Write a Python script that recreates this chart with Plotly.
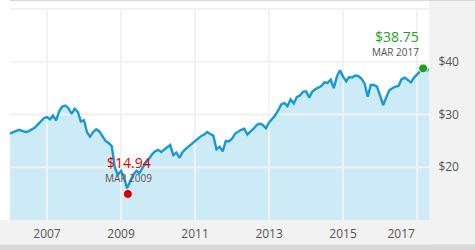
import plotly.graph_objects as go
import pandas as pd

# ---------------- data ----------------
months = pd.date_range("2006-01-01", "2017-04-01", freq="MS").strftime("%Y-%m-%d").tolist()
dates = months + ["2017-04-28"]

prices = [
    # 2006
    26.4, 26.6, 26.8, 27.1, 26.9, 26.7, 26.8, 27.2, 27.5, 28.1, 28.7, 29.3,
    # 2007
    29.5, 29.1, 29.8, 28.9, 30.6, 31.5, 31.7, 31.2, 30.1, 31.1, 30.5, 28.7,
    # 2008
    28.9, 26.6, 25.8, 26.7, 27.2, 26.8, 25.9, 25.0, 24.6, 24.0, 19.9, 18.6,
    # 2009
    19.3, 18.0, 16.0, 17.5, 18.6, 19.3, 18.9, 19.9, 20.9, 21.5, 22.4, 23.0,
    # 2010
    23.3, 22.9, 23.3, 23.8, 24.2, 22.3, 22.8, 21.8, 22.9, 23.5, 24.0, 24.6,
    # 2011
    25.1, 25.5, 25.9, 26.2, 26.7, 26.3, 26.0, 23.4, 23.9, 23.0, 25.0, 24.9,
    # 2012
    25.4, 26.4, 26.8, 27.1, 27.3, 26.2, 26.8, 27.3, 28.0, 28.3, 28.0, 27.4,
    # 2013
    28.5, 29.1, 29.8, 30.8, 31.9, 32.2, 31.6, 32.9, 32.1, 33.3, 33.6, 34.3,
    # 2014
    34.4, 33.2, 34.3, 34.8, 35.1, 35.4, 36.1, 36.0, 36.6, 35.0, 37.2, 38.4,
    # 2015
    37.2, 36.3, 37.1, 37.0, 37.4, 37.3, 36.8, 35.9, 33.4, 35.6, 35.6, 35.3,
    # 2016
    33.6, 31.8, 33.2, 34.6, 35.0, 35.3, 35.4, 36.7, 37.0, 36.6, 36.1, 37.0,
    # 2017
    37.6, 38.2, 38.75, 38.3, 38.6,
]

low_date = "2009-03-09"
low_price = 14.94
low_text = "$14.94"
low_month = "MAR 2009"

high_date = "2017-03-01"
high_price = 38.75
high_text = "$38.75"
high_month = "MAR 2017"

grid_years = ["2007-01-01", "2009-01-01", "2011-01-01", "2013-01-01", "2015-01-01", "2017-01-01"]
x_tick_labels = ["2007", "2009", "2011", "2013", "2015", "2017"]
y_grid_values = [20, 30, 40, 50]
y_tick_values = [20, 30, 40]
y_tick_labels = ["$20", "$30", "$40"]

x_range = ["2006-01-01", "2017-04-28"]
y_range = [10, 50.2]

# ---------------- styles ----------------
LINE = "#1899d6"
FILL = "#cdeaf7"
GRID = "#f0f2f3"
TXT = "#555555"
RED = "#d40000"
GREEN = "#1f9e1f"
FONT = "Open Sans"

# label positions: last label pulled in so it fits inside the plot
x_label_pos = list(grid_years)
last = pd.Timestamp(x_range[1]) - pd.Timedelta(days=275)
if pd.Timestamp(x_label_pos[-1]) > last:
    x_label_pos[-1] = last.strftime("%Y-%m-%d")

fig = go.Figure()

# area fill
fig.add_trace(go.Scatter(x=dates, y=prices, mode="lines", line=dict(width=0, color=FILL),
                         fill="tozeroy", fillcolor=FILL, hoverinfo="skip", showlegend=False))

# gridlines (between fill and line)
gx, gy = [], []
for g in grid_years:
    gx += [g, g, None]
    gy += [y_range[0] - 5, y_range[1] + 5, None]
fig.add_trace(go.Scatter(x=gx, y=gy, mode="lines", line=dict(color=GRID, width=2),
                         hoverinfo="skip", showlegend=False))
hx, hy = [], []
for v in y_grid_values:
    hx += ["2005-01-01", "2018-06-01", None]
    hy += [v, v, None]
fig.add_trace(go.Scatter(x=hx, y=hy, mode="lines", line=dict(color=GRID, width=2),
                         hoverinfo="skip", showlegend=False))

# price line
fig.add_trace(go.Scatter(x=dates, y=prices, mode="lines", line=dict(color=LINE, width=2.4),
                         showlegend=False))

# markers
fig.add_trace(go.Scatter(x=[low_date], y=[low_price], mode="markers",
                         marker=dict(color=RED, size=9, line=dict(color="white", width=1)),
                         showlegend=False))
fig.add_trace(go.Scatter(x=[high_date], y=[high_price], mode="markers",
                         marker=dict(color=GREEN, size=9, line=dict(color="white", width=1)),
                         showlegend=False))

annotations = [
    dict(x=low_date, y=low_price, text=low_text, showarrow=False, xanchor="center", yanchor="middle",
         yshift=31, xshift=1, font=dict(family=FONT, size=14, color=RED)),
    dict(x=low_date, y=low_price, text=low_month, showarrow=False, xanchor="center", yanchor="middle",
         yshift=15.5, xshift=1, font=dict(family=FONT, size=10, color=TXT)),
    dict(x=high_date, y=high_price, text=high_text, showarrow=False, xanchor="right", yanchor="middle",
         yshift=32, xshift=-2, font=dict(family=FONT, size=14, color=GREEN)),
    dict(x=high_date, y=high_price, text=high_month, showarrow=False, xanchor="right", yanchor="middle",
         yshift=16, xshift=-2, font=dict(family=FONT, size=10, color=TXT)),
]

shapes = [
    # top bar
    dict(type="rect", xref="paper", yref="paper", x0=0, x1=1.2, y0=1.0327, y1=1.1,
         fillcolor="#d9d9d9", line_width=0, layer="below"),
    # right panel
    dict(type="rect", xref="paper", yref="paper", x0=1, x1=1.2, y0=-0.2, y1=1.0327,
         fillcolor="#f2f2f2", line_width=0, layer="below"),
    # bottom strip
    dict(type="rect", xref="paper", yref="paper", x0=-0.1, x1=1.2, y0=-0.1154, y1=0,
         fillcolor="#f2f2f2", line_width=0, layer="below"),
    # bottom line
    dict(type="rect", xref="paper", yref="paper", x0=-0.1, x1=1.2, y0=-0.2, y1=-0.1154,
         fillcolor="#d9d9d9", line_width=0, layer="below"),
]

fig.update_layout(
    width=475, height=250,
    margin=dict(l=10, r=46, t=8, b=27, pad=0),
    paper_bgcolor="white", plot_bgcolor="white",
    showlegend=False,
    annotations=annotations,
    shapes=shapes,
    font=dict(family=FONT, size=12, color=TXT),
    xaxis=dict(type="date", range=x_range, showgrid=False, zeroline=False, showline=False,
               tickvals=x_label_pos, ticktext=x_tick_labels, ticks="outside", ticklen=3,
               tickcolor="rgba(0,0,0,0)", tickfont=dict(family=FONT, size=12, color=TXT),
               fixedrange=True),
    yaxis=dict(range=y_range, side="right", showgrid=False, zeroline=False, showline=False,
               tickvals=y_tick_values, ticktext=y_tick_labels, ticks="outside", ticklen=6,
               tickcolor="rgba(0,0,0,0)", tickfont=dict(family=FONT, size=12, color=TXT),
               fixedrange=True),
)

fig.write_html("out.html", config={"displayModeBar": False})
